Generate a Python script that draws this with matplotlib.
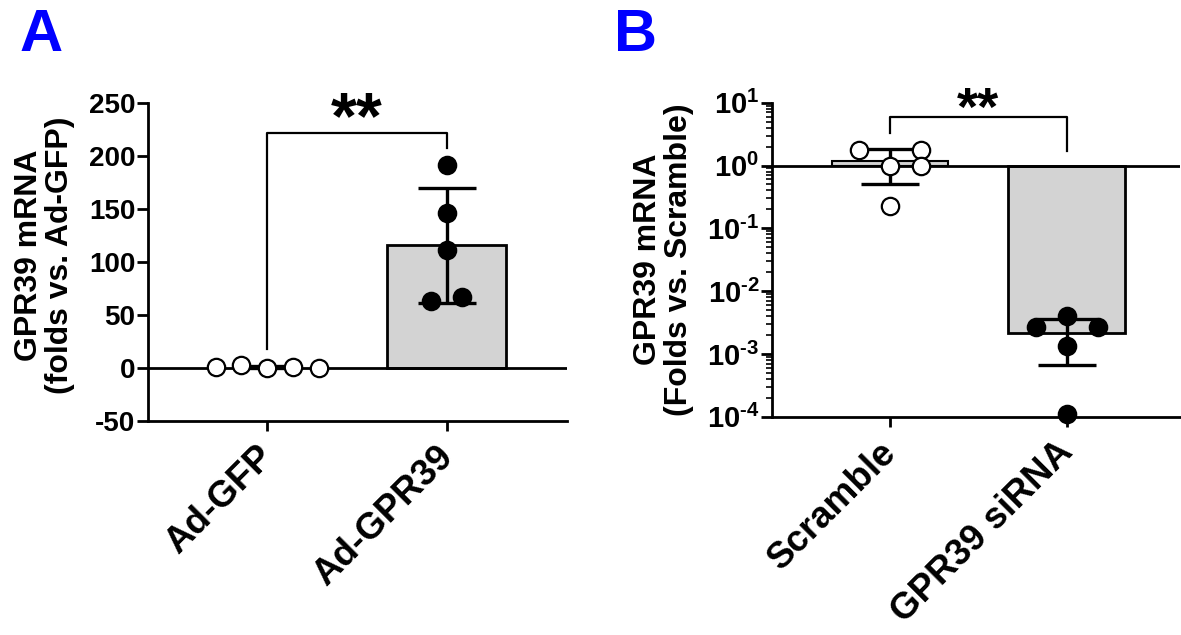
import numpy as np
import matplotlib
matplotlib.use("Agg")
import matplotlib.pyplot as plt
import matplotlib.transforms as mtransforms

plt.rcParams["font.family"] = ["Liberation Sans", "DejaVu Sans"]
plt.rcParams["font.weight"] = "bold"
plt.rcParams["axes.unicode_minus"] = False
plt.rcParams["mathtext.fontset"] = "custom"
plt.rcParams["mathtext.bf"] = "Liberation Sans:bold"
plt.rcParams["mathtext.rm"] = "Liberation Sans:bold"

# ---- data ----
groups_a = ["Ad-GFP", "Ad-GPR39"]
gfp_vals = [0.6, 2.8, 0.4, 0.9, 0.3]
gpr39_vals = [191.0, 146.0, 111.0, 63.5, 66.5]

groups_b = ["Scramble", "GPR39 siRNA"]
scramble_vals = [1.78, 1.78, 1.0, 1.0, 0.23]
sirna_vals = [0.00405, 0.00264, 0.00264, 0.00135, 0.00011]

# horizontal scatter offsets of the dots (category units)
gfp_off = [-0.28, -0.14, 0.0, 0.145, 0.29]
gpr39_off = [0.0, 0.0, 0.0, -0.087, 0.083]
scramble_off = [-0.175, 0.175, 0.0, 0.175, 0.0]
sirna_off = [0.0, -0.175, 0.177, 0.0, 0.0]

W, H = 1181, 635
fig = plt.figure(figsize=(W / 100, H / 100), dpi=100)

BAR_W = 0.66
LW = 2.0
TICK_FS = 20
LABEL_FS = 23
XT_FS = 26.5


def style_axes(ax):
    for s in ["top", "right"]:
        ax.spines[s].set_visible(False)
    for s in ["left", "bottom"]:
        ax.spines[s].set_linewidth(LW)
    ax.tick_params(axis="both", width=LW, color="black")
    ax.tick_params(axis="y", length=8, pad=1, labelsize=TICK_FS)
    ax.tick_params(axis="y", which="minor", length=4, width=1.2)
    ax.tick_params(axis="x", length=7, pad=6, labelsize=XT_FS)


def rotate_xlabels(ax, labels):
    ax.set_xticklabels(labels, rotation=45, ha="right", va="top",
                       rotation_mode="anchor")
    shift = mtransforms.ScaledTranslation(-8 / 72, 0, fig.dpi_scale_trans)
    for lab in ax.get_xticklabels():
        lab.set_transform(lab.get_transform() + shift)


def draw_group(ax, x, vals, offs, filled, base):
    vals = np.asarray(vals)
    mean, sd = vals.mean(), vals.std(ddof=1)
    if filled:
        ax.bar(x, mean - base, bottom=base, width=BAR_W, color="#d3d3d3",
               edgecolor="black", linewidth=LW, zorder=2)
    ax.errorbar(x, mean, yerr=sd, fmt="none", ecolor="black", elinewidth=2.4,
                capsize=21, capthick=2.4, zorder=3)
    ax.plot(x + np.asarray(offs), vals, "o", ms=12.5,
            mfc="black" if filled else "white", mec="black", mew=1.6,
            zorder=4, clip_on=False)


# ---------------- Panel A ----------------
axA = fig.add_axes([148 / W, 1 - 421 / H, (567 - 148) / W, (421 - 102.7) / H])
style_axes(axA)
axA.set_xlim(-0.659, 1.668)
axA.set_ylim(-50, 250)
axA.set_yticks(np.arange(-50, 251, 50))
axA.axhline(0, color="black", lw=LW, zorder=2.5)
draw_group(axA, 0, gfp_vals, gfp_off, False, 0)
draw_group(axA, 1, gpr39_vals, gpr39_off, True, 0)
axA.set_xticks([0, 1])
rotate_xlabels(axA, groups_a)
axA.set_ylabel("GPR39 mRNA\n(folds vs. Ad-GFP)", fontsize=LABEL_FS,
               fontweight="bold", linespacing=1.05)
axA.yaxis.set_label_coords(-0.175, 0.52)

top_a = max(gpr39_vals) + 30
axA.plot([0, 0, 1, 1], [max(gfp_vals) + 15, top_a, top_a, max(gpr39_vals) + 16],
         color="black", lw=1.6, zorder=3)
axA.text(0.5, top_a + 12, "**", ha="center", va="center", fontsize=48,
         fontweight="bold")

# ---------------- Panel B ----------------
axB = fig.add_axes([772 / W, 1 - 416.7 / H, (1180 - 772) / W, (416.7 - 102.7) / H])
axB.set_yscale("log")
style_axes(axB)
axB.tick_params(axis="y", labelsize=21)
axB.set_xlim(-0.667, 1.64)
axB.set_ylim(1e-4, 10)
yt = [1e-4, 1e-3, 1e-2, 1e-1, 1e0, 1e1]
axB.set_yticks(yt)
axB.set_yticklabels([r"$\mathbf{10^{\text{%d}}}$" % int(np.log10(v)) for v in yt])
axB.yaxis.set_minor_locator(matplotlib.ticker.LogLocator(base=10, subs=np.arange(2, 10)))
axB.yaxis.set_minor_formatter(matplotlib.ticker.NullFormatter())
axB.axhline(1, color="black", lw=LW, zorder=2.5)
draw_group(axB, 0, scramble_vals, scramble_off, False, 1.0)
draw_group(axB, 1, sirna_vals, sirna_off, True, 1.0)
# thin bar for scramble (mean barely above baseline)
sm = np.mean(scramble_vals)
axB.bar(0, sm - 1, bottom=1, width=BAR_W, color="#d3d3d3", edgecolor="black",
        linewidth=1.5, zorder=1.5)
axB.set_xticks([0, 1])
rotate_xlabels(axB, groups_b)
axB.set_ylabel("GPR39 mRNA\n(Folds vs. Scramble)", fontsize=LABEL_FS,
               fontweight="bold", linespacing=1.05)
axB.yaxis.set_label_coords(-0.19, 0.5)

top_b = 5.9
axB.plot([0, 0, 1, 1], [3.27, top_b, top_b, 1.73], color="black", lw=1.6, zorder=3)
axB.text(0.5, 7.3, "**", ha="center", va="center", fontsize=39,
         fontweight="bold", clip_on=False)

# panel letters
fig.text(20 / W, 1 - 8 / H, "A", color="#0000ff", fontsize=43, fontweight="bold",
         ha="left", va="top")
fig.text(614 / W, 1 - 8 / H, "B", color="#0000ff", fontsize=43, fontweight="bold",
         ha="left", va="top")

fig.savefig("out.png", dpi=100)
